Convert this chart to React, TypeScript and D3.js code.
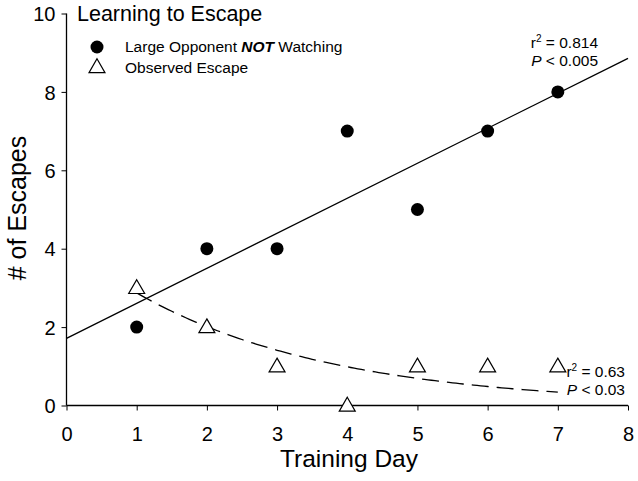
import React, { useEffect, useRef } from 'react';
import * as d3 from 'd3';

// days on the x axis
const days = [1, 2, 3, 4, 5, 6, 7];
// Large Opponent NOT Watching (filled circles)
const notWatching = [2, 4, 4, 7, 5, 7, 8];
// Observed Escape (open triangles)
const observed = [3, 2, 1, 0, 1, 1, 1];
// exponential decay fit: y = a * exp(-b x)
const decayA = 4.1;
const decayB = 0.356;
const xTicks = [0, 1, 2, 3, 4, 5, 6, 7, 8];
const yTicks = [0, 2, 4, 6, 8, 10];

const App = () => {
  const svgRef = useRef<SVGSVGElement>(null);

  useEffect(() => {
    const width = 638;
    const height = 481;
    const margin = { top: 13.5, right: 10, bottom: 75.5, left: 66.5 };
    const font = 'Liberation Sans, Arial, sans-serif';

    const root = d3.select(svgRef.current);
    root.selectAll('*').remove();
    root.attr('width', width).attr('height', height);

    const x = d3.scaleLinear().domain([0, 8]).range([margin.left, 628]);
    const y = d3.scaleLinear().domain([0, 10]).range([height - margin.bottom, margin.top]);

    const svg = root.append('g');

    // axes
    const xAxis = svg.append('g')
      .attr('transform', `translate(0,${y(0)})`)
      .call(d3.axisBottom(x).tickValues(xTicks).tickSize(5).tickPadding(16).tickFormat(d3.format('d')));
    const yAxis = svg.append('g')
      .attr('transform', `translate(${x(0)},0)`)
      .call(d3.axisLeft(y).tickValues(yTicks).tickSize(5).tickPadding(6).tickFormat(d3.format('d')));

    [xAxis, yAxis].forEach(a => {
      a.select('.domain').attr('stroke', '#000').attr('stroke-width', 1.3)
        .attr('d', (a === xAxis) ? `M${x(0)},0H${x(8)}` : `M0,${y(10)}V${y(0)}`);
      a.selectAll('.tick line').attr('stroke', '#000').attr('stroke-width', 1);
      a.selectAll('.tick text').attr('font-family', font).attr('font-size', 20).attr('fill', '#000');
    });
    yAxis.selectAll('.tick text').attr('dy', '0.36em');

    // regression line for circles
    const mx = d3.mean(days)!;
    const my = d3.mean(notWatching)!;
    const slope = d3.sum(days, (d, i) => (d - mx) * (notWatching[i] - my)) / d3.sum(days, d => (d - mx) ** 2);
    const icpt = my - slope * mx;
    svg.append('line')
      .attr('x1', x(0)).attr('y1', y(icpt))
      .attr('x2', x(8)).attr('y2', y(icpt + slope * 8))
      .attr('stroke', '#000').attr('stroke-width', 1.3);

    // dashed exponential decay
    const curveXs = d3.range(1, 7.001, 0.05);
    svg.append('path')
      .datum(curveXs)
      .attr('d', d3.line<number>().x(d => x(d)).y(d => y(decayA * Math.exp(-decayB * d))))
      .attr('fill', 'none')
      .attr('stroke', '#000')
      .attr('stroke-width', 1.3)
      .attr('stroke-dasharray', '17,8');

    const tri = d3.symbol().type(d3.symbolTriangle).size(110);

    svg.selectAll('.circ')
      .data(days)
      .enter().append('circle')
      .attr('class', 'circ')
      .attr('cx', d => x(d))
      .attr('cy', (d, i) => y(notWatching[i]))
      .attr('r', 6.5)
      .attr('fill', '#000');

    svg.selectAll('.tri')
      .data(days)
      .enter().append('path')
      .attr('class', 'tri')
      .attr('d', tri)
      .attr('transform', (d, i) => `translate(${x(d)},${y(observed[i]) + 1})`)
      .attr('fill', '#fff')
      .attr('stroke', '#000')
      .attr('stroke-width', 1.2);

    // axis titles
    svg.append('text')
      .attr('x', 349).attr('y', 467)
      .attr('text-anchor', 'middle')
      .attr('font-family', font).attr('font-size', 24.5)
      .text('Training Day');
    svg.append('text')
      .attr('transform', 'translate(26,208) rotate(-90)')
      .attr('text-anchor', 'middle')
      .attr('font-family', font).attr('font-size', 25)
      .text('# of Escapes');

    // title
    svg.append('text')
      .attr('x', 77).attr('y', 21)
      .attr('font-family', font).attr('font-size', 21.5)
      .text('Learning to Escape');

    // legend
    svg.append('circle').attr('cx', 97).attr('cy', 47).attr('r', 6.5).attr('fill', '#000');
    svg.append('path').attr('d', tri).attr('transform', 'translate(97,68)')
      .attr('fill', '#fff').attr('stroke', '#000').attr('stroke-width', 1.2);
    const l1 = svg.append('text').attr('x', 125).attr('y', 52)
      .attr('font-family', font).attr('font-size', 15.5);
    l1.append('tspan').text('Large Opponent ');
    l1.append('tspan').attr('font-weight', 'bold').attr('font-style', 'italic').text('NOT');
    l1.append('tspan').text(' Watching');
    svg.append('text').attr('x', 125).attr('y', 73)
      .attr('font-family', font).attr('font-size', 15.5)
      .text('Observed Escape');

    // annotations
    const annot = (ax: number, ay: number, r2: string, p: string) => {
      const t1 = svg.append('text').attr('x', ax).attr('y', ay)
        .attr('font-family', font).attr('font-size', 15.5).attr('text-anchor', 'end');
      t1.append('tspan').text('r');
      t1.append('tspan').attr('font-size', 10).attr('dy', -6).text('2');
      t1.append('tspan').attr('dy', 6).text(` = ${r2}`);
      const t2 = svg.append('text').attr('x', ax).attr('y', ay + 18)
        .attr('font-family', font).attr('font-size', 15.5).attr('text-anchor', 'end');
      t2.append('tspan').attr('font-style', 'italic').text('P');
      t2.append('tspan').text(` < ${p}`);
    };
    annot(598, 48, '0.814', '0.005');
    annot(625, 377, '0.63', '0.03');
  }, []);

  return <svg ref={svgRef} style={{ display: 'block', position: 'absolute', left: 0, top: 0 }}></svg>;
};

export default App;
